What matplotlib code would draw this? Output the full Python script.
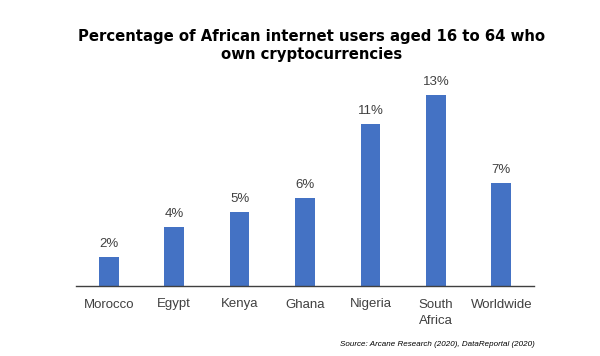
import numpy as np
import matplotlib.pyplot as plt

countries = ['Morocco', 'Egypt', 'Kenya', 'Ghana', 'Nigeria', 'South\nAfrica', 'Worldwide']
share = [2, 4, 5, 6, 11, 13, 7]
value_labels = ['2%', '4%', '5%', '6%', '11%', '13%', '7%']

fig = plt.figure(figsize=(6, 3.56), dpi=100)
ax = fig.add_axes([76 / 600, 1 - 286 / 356, 458 / 600, 206 / 356])

x = np.arange(len(countries))
bars = ax.bar(x, share, width=0.3, color='#4472C4')

for b, lab in zip(bars, value_labels):
    ax.annotate(lab, (b.get_x() + b.get_width() / 2, b.get_height()),
                xytext=(0, 5), textcoords='offset points',
                ha='center', va='bottom', fontsize=9.5, color='#404040',
                family='Liberation Sans')

ax.set_xlim(-0.5, len(countries) - 0.5)
ax.set_ylim(0, 14)
ax.set_yticks([])
ax.set_xticks(x)
ax.set_xticklabels(countries, fontsize=9.5, color='#404040', family='Liberation Sans',
                   linespacing=1.5, va='top')
ax.tick_params(axis='x', length=0, pad=9)
for s in ['top', 'right', 'left']:
    ax.spines[s].set_visible(False)
ax.spines['bottom'].set_color('#404040')
ax.spines['bottom'].set_linewidth(1.0)

fig.text(312 / 600, 1 - 46 / 356,
         'Percentage of African internet users aged 16 to 64 who\nown cryptocurrencies',
         ha='center', va='center', fontsize=10.7, fontweight='bold', linespacing=1.25)
fig.text(535 / 600, 1 - 344 / 356, 'Source: Arcane Research (2020), DataReportal (2020)',
         ha='right', va='center', fontsize=5.8, style='italic', family='Liberation Sans')

fig.savefig('out.png', dpi=100)
